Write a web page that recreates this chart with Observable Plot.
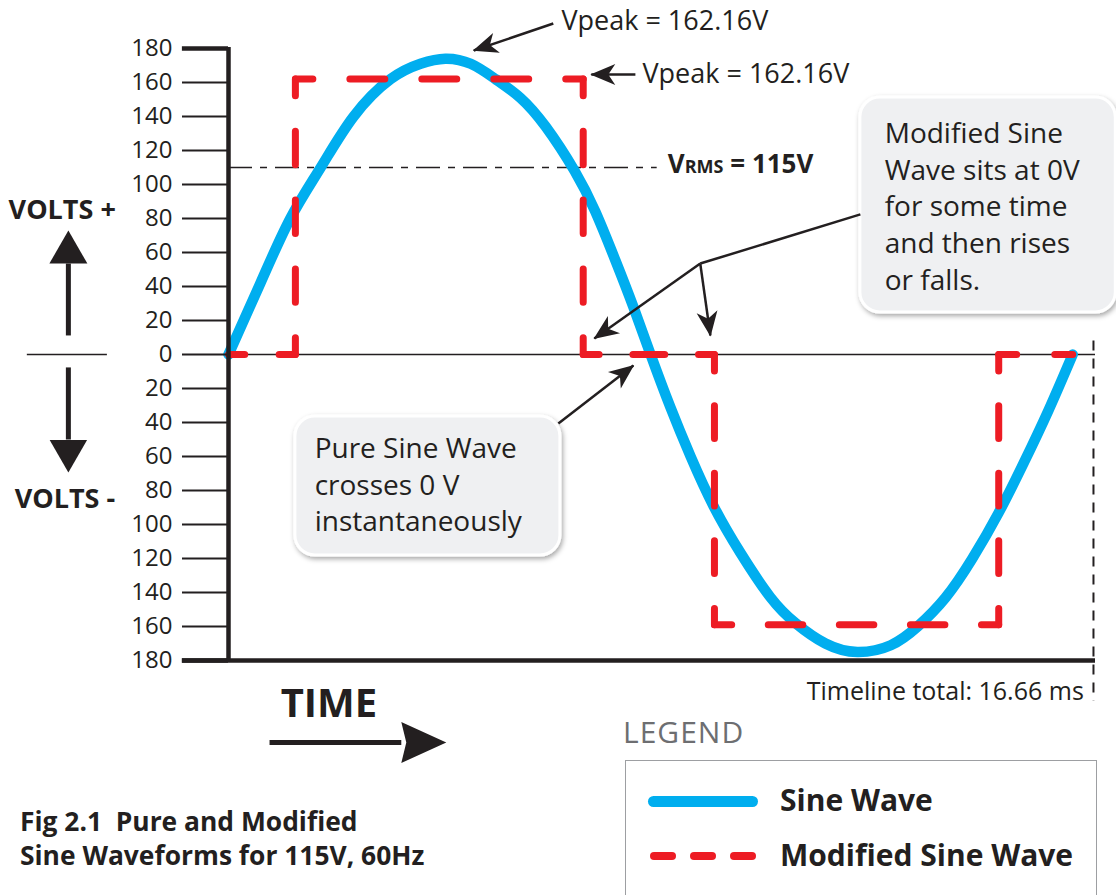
<!DOCTYPE html>
<html><head><meta charset="utf-8">
<script src="https://cdn.jsdelivr.net/npm/d3@7"></script>
<script src="https://cdn.jsdelivr.net/npm/@observablehq/plot@0.6"></script>
<style>
html,body{margin:0;padding:0;background:#fff;overflow:hidden}
#wrap{position:relative;width:1116px;height:895px;font-family:'Open Sans',sans-serif;color:#231F20}
#wrap svg{position:absolute;left:0;top:0}
.abs{position:absolute;white-space:nowrap}
</style></head><body><div id="wrap"></div>
<script>
// ---------- data (time in ms, voltage in V) ----------
const sineTime  = [0, 0.63, 1.22, 1.82, 2.47, 3.20, 3.79, 4.28, 4.78, 5.27, 5.76, 6.26, 6.83, 7.24, 7.64, 7.99, 8.33, 8.72, 9.12, 9.57, 10.11, 10.70, 11.19, 11.78, 12.41, 13.07, 13.60, 14.15, 14.68, 15.20, 15.69, 16.18, 16.66];
const sineVolts = [0, 42, 80, 110, 140, 162, 171, 174, 171, 162, 151, 134, 108, 84, 55, 28, 0, -31, -60, -89, -117, -143, -158, -170, -175, -171, -160, -143, -120, -93, -64, -33, 0];
const modTime   = [0, 1.32, 1.32, 7.00, 7.00, 9.59, 9.59, 15.20, 15.20, 16.66];
const modVolts  = [0, 0, 162, 162, 0, 0, -159, -159, 0, 0];
const voltTicks = [-180, -160, -140, -120, -100, -80, -60, -40, -20, 0, 20, 40, 60, 80, 100, 120, 140, 160, 180];
const seriesNames = ["Sine Wave", "Modified Sine Wave"];
const vrmsLevel = 110;
const timelineTotal = 16.66;
const peakLabel = "Vpeak = 162.16V";
const vrmsLabel = "VRMS = 115V";
const calloutModified = "Modified Sine\nWave sits at 0V\nfor some time\nand then rises\nor falls.";
const calloutPure = "Pure Sine Wave\ncrosses 0 V\ninstantaneously";
const timelineLabel = "Timeline total: 16.66 ms";
const captionLines = ["Fig 2.1&nbsp; Pure and Modified", "Sine Waveforms for 115V, 60Hz"];

// ---------- derived tables ----------
const sine = sineTime.map((t, i) => ({t, v: sineVolts[i]}));
const modSegs = [];
for (let i = 0; i < modTime.length - 1; i++) {
  modSegs.push({t: modTime[i], v: modVolts[i], seg: i});
  modSegs.push({t: modTime[i + 1], v: modVolts[i + 1], seg: i});
}
const ink = "#231F20";
const blue = "#00AEEF";
const red = "#ED1C24";
const P = (t, v, label) => ({t, v, label});
const L = (x1, y1, x2, y2) => ({x1, y1, x2, y2});

const chart = Plot.plot({
  width: 1116, height: 770,
  marginLeft: 228, marginRight: 21, marginTop: 48, marginBottom: 110,
  style: {fontFamily: "'Open Sans', sans-serif", fontSize: "24px", color: ink, background: "transparent", overflow: "visible"},
  x: {domain: [0, 17.11], axis: null},
  y: {domain: [-180, 180], axis: null},
  marks: [
    // reference lines
    Plot.ruleY([0], {x1: 0, x2: 17.11, stroke: ink, strokeWidth: 1.5}),
    Plot.ruleY([vrmsLevel], {x1: 0, x2: 8.46, stroke: ink, strokeWidth: 1.6, strokeDasharray: "24,8,7,8"}),
    Plot.ruleX([17.07], {y1: 8, y2: -204, stroke: ink, strokeWidth: 2, strokeDasharray: "10,8"}),
    // series
    Plot.line(sine, {x: "t", y: "v", stroke: blue, strokeWidth: 10.5, curve: "natural"}),
    Plot.line(modSegs, {x: "t", y: "v", z: "seg", stroke: red, strokeWidth: 7, strokeLinecap: "round", ariaDescription: "modified"}),
    // axes
    Plot.axisY(voltTicks, {tickFormat: d => Math.abs(d), tickSize: 46, tickPadding: 10, fontSize: 24, strokeWidth: 2, label: null}),
    Plot.ruleY([180, -180], {x1: -0.91, x2: 0, stroke: ink, strokeWidth: 4.5}),
    Plot.ruleY([-180], {x1: -0.91, x2: 17.11, stroke: ink, strokeWidth: 4.5}),
    Plot.ruleX([0], {y1: -180.6, y2: 180.6, stroke: ink, strokeWidth: 4.5}),
    // callout boxes
    Plot.rect([{x1: 12.47, x2: 17.51, y1: 151.2, y2: 24.7}, {x1: 1.32, x2: 6.55, y1: -36.5, y2: -118.2}],
      {x1: "x1", x2: "x2", y1: "y1", y2: "y2", rx: 20, fill: "#EFF0F2", stroke: "white", strokeWidth: 3, ariaDescription: "callout"}),
    // pointer lines (no head)
    Plot.link([L(12.47, 82.4, 9.31, 53.5)], {x1: "x1", y1: "y1", x2: "x2", y2: "y2", stroke: ink, strokeWidth: 2.5}),
    // small arrows
    Plot.link([L(6.41, 194.7, 4.84, 178.8), L(8.03, 164.7, 7.16, 164.7), L(9.31, 53.5, 7.22, 9.4), L(9.31, 53.5, 9.51, 11.2), L(6.51, -40.6, 7.99, -6.5)],
      {x1: "x1", y1: "y1", x2: "x2", y2: "y2", stroke: ink, strokeWidth: 2.5, ariaDescription: "arrowS"}),
    // VOLTS arrows and divider
    Plot.link([L(-3.16, 11.2, -3.16, 53.5), L(-3.16, -7.6, -3.16, -50)],
      {x1: "x1", y1: "y1", x2: "x2", y2: "y2", stroke: ink, strokeWidth: 5, ariaDescription: "arrowV"}),
    Plot.ruleY([0], {x1: -3.97, x2: -2.39, stroke: ink, strokeWidth: 1.5}),
    // TIME arrow
    Plot.link([L(0.81, -228.2, 3.41, -228.2)], {x1: "x1", y1: "y1", x2: "x2", y2: "y2", stroke: ink, strokeWidth: 5, ariaDescription: "arrowT"}),
    // texts
    Plot.text([P(6.57, 190.6, peakLabel), P(8.17, 160, peakLabel)], {x: "t", y: "v", text: "label", textAnchor: "start", lineAnchor: "bottom", fontSize: 27, fill: ink}),
    Plot.text([P(8.67, 106.5, vrmsLabel)], {x: "t", y: "v", text: "label", textAnchor: "start", lineAnchor: "bottom", fontSize: 26, fontWeight: "bold", fill: ink, ariaDescription: "vrms"}),
    Plot.text([P(12.95, 139.8, calloutModified), P(1.70, -45.5, calloutPure)], {x: "t", y: "v", text: "label", textAnchor: "start", lineAnchor: "top", fontSize: 28, lineHeight: 1.31, fill: ink}),
    Plot.text([P(16.88, -203.5, timelineLabel)], {x: "t", y: "v", text: "label", textAnchor: "end", lineAnchor: "bottom", fontSize: 25, fill: ink}),
    Plot.text([P(-4.34, 80, "VOLTS +"), P(-4.22, -90, "VOLTS -")], {x: "t", y: "v", text: "label", textAnchor: "start", lineAnchor: "bottom", fontSize: 27, fontWeight: "bold", fill: ink}),
    Plot.text([P(1.03, -213.5, "TIME")], {x: "t", y: "v", text: "label", textAnchor: "start", lineAnchor: "bottom", fontSize: 40, fontWeight: "bold", fill: ink})
  ]
});

const wrap = document.getElementById("wrap");
wrap.appendChild(chart);

// ---------- post-processing: markers, shadow, dashes, small caps ----------
const ns = "http://www.w3.org/2000/svg";
const defs = document.createElementNS(ns, "defs");
defs.innerHTML = `
<marker id="headS" markerUnits="userSpaceOnUse" viewBox="-26 -12 28 24" markerWidth="28" markerHeight="24" refX="0" refY="0" orient="auto"><path d="M1,0L-24,-10.5L-17,0L-24,10.5Z" fill="${ink}"/></marker>
<marker id="headV" markerUnits="userSpaceOnUse" viewBox="0 -20 34 40" markerWidth="34" markerHeight="40" refX="0" refY="0" orient="auto"><path d="M33,0L0,-19L0,19Z" fill="${ink}"/></marker>
<marker id="headT" markerUnits="userSpaceOnUse" viewBox="0 -22 46 44" markerWidth="46" markerHeight="44" refX="0" refY="0" orient="auto"><path d="M45,0L0,-20.5L5,0L0,20.5Z" fill="${ink}"/></marker>
<filter id="shadow" x="-10%" y="-10%" width="125%" height="130%"><feDropShadow dx="1.5" dy="2.5" stdDeviation="2.5" flood-color="#000" flood-opacity="0.35"/></filter>`;
chart.insertBefore(defs, chart.firstChild);
const setMarker = (desc, id) => chart.querySelectorAll(`g[aria-description="${desc}"] path`).forEach(p => p.setAttribute("marker-end", `url(#${id})`));
setMarker("arrowS", "headS");
setMarker("arrowV", "headV");
setMarker("arrowT", "headT");
chart.querySelectorAll('g[aria-description="callout"]').forEach(g => g.setAttribute("filter", "url(#shadow)"));
// align red dashes to the corners of each segment
chart.querySelectorAll('g[aria-description="modified"] path').forEach(p => {
  const len = p.getTotalLength();
  const d = 33, g = 35;
  const n = Math.max(1, Math.round(len / (d + g)));
  const s = len / (n * (d + g));
  p.setAttribute("stroke-dasharray", `${d * s},${g * s}`);
  p.setAttribute("stroke-dashoffset", `${d * s / 2}`);
});
// VRMS with small caps
chart.querySelectorAll('g[aria-description="vrms"] text').forEach(t => {
  t.textContent = "";
  const parts = [["V", 26], ["RMS", 18], [" = 115V", 26]];
  for (const [s, fs] of parts) {
    const ts = document.createElementNS(ns, "tspan");
    ts.setAttribute("font-size", fs);
    ts.textContent = s;
    t.appendChild(ts);
  }
});

// ---------- HTML caption and legend ----------
function addDiv(style, html) {
  const el = document.createElement("div");
  el.className = "abs";
  el.setAttribute("style", style);
  el.innerHTML = html || "";
  wrap.appendChild(el);
  return el;
}
addDiv("left:20px;top:804px;font-size:26.4px;line-height:34px;font-weight:700", captionLines.join("<br>"));
addDiv("left:623px;top:717px;font-size:30px;line-height:30px;color:#6D6E71;letter-spacing:1px", "LEGEND");
addDiv("left:625px;top:760px;width:470px;height:200px;border:1.5px solid #9D9FA2");
addDiv(`left:648px;top:796px;width:110px;height:11px;border-radius:6px;background:${blue}`);
[650, 690, 730].forEach(x => addDiv(`left:${x}px;top:852px;width:26px;height:8px;border-radius:4px;background:${red}`));
addDiv("left:780px;top:785px;font-size:30px;line-height:30px;font-weight:700", seriesNames[0]);
addDiv("left:780px;top:840px;font-size:30px;line-height:30px;font-weight:700", seriesNames[1]);
</script></body></html>
